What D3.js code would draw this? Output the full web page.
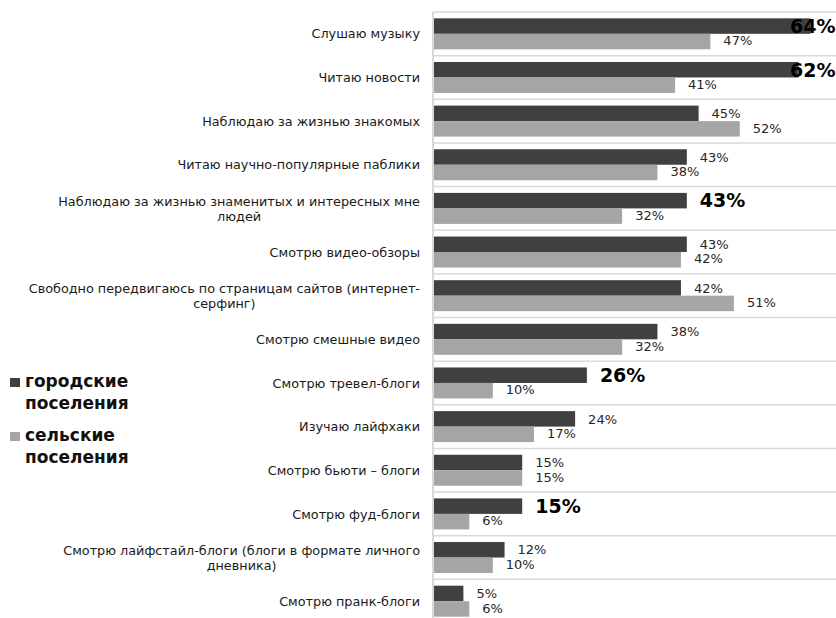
<!DOCTYPE html>
<html>
<head>
<meta charset="utf-8">
<script src="https://cdn.jsdelivr.net/npm/d3@7"></script>
<style>
  html, body { margin: 0; padding: 0; background: #fff; }
  svg { display: block; font-family: "DejaVu Sans", Verdana, sans-serif; overflow: hidden; }
</style>
</head>
<body>
<svg id="chart" width="836" height="618"></svg>
<script>
// Activities, top to bottom; long names are split into display lines
const categories = [
  ["Слушаю музыку"],
  ["Читаю новости"],
  ["Наблюдаю за жизнью знакомых"],
  ["Читаю научно-популярные паблики"],
  ["Наблюдаю за жизнью знаменитых и интересных мне", "людей"],
  ["Смотрю видео-обзоры"],
  ["Свободно передвигаюсь по страницам сайтов (интернет-", "серфинг)"],
  ["Смотрю смешные видео"],
  ["Смотрю тревел-блоги"],
  ["Изучаю лайфхаки"],
  ["Смотрю бьюти – блоги"],
  ["Смотрю фуд-блоги"],
  ["Смотрю лайфстайл-блоги (блоги в формате личного", "дневника)"],
  ["Смотрю пранк-блоги"]
];
// Share of respondents, %
const urban = [64, 62, 45, 43, 43, 43, 42, 38, 26, 24, 15, 15, 12, 5];
const rural = [47, 41, 52, 38, 32, 42, 51, 32, 10, 17, 15, 6, 10, 6];
// Urban values printed large and bold
const highlighted = [0, 1, 4, 8, 11];
const seriesNames = [["городские", "поселения"], ["сельские", "поселения"]];

const colors = { urban: "#404040", rural: "#a5a5a5", grid: "#d9d9d9" };

const svg = d3.select("#chart");
const plotLeft = 434, plotTop = 12, plotBottom = 623, plotRight = 836;

const keys = categories.map((c, i) => i);
const y = d3.scaleBand().domain(keys).range([plotTop, plotBottom])
  .paddingInner(0.29).paddingOuter(0.145);
const x = d3.scaleLinear().domain([0, 70]).range([plotLeft, plotLeft + 411.6]);
const sub = d3.scaleBand().domain(["urban", "rural"]).range([0, y.bandwidth()]);

// Frame and row separators
const step = y.step();
const sepYs = d3.range(0, categories.length + 1).map(k => plotTop + k * step);
svg.append("g").selectAll("line").data(sepYs).join("line")
  .attr("x1", plotLeft - 1).attr("x2", plotRight)
  .attr("y1", d => d).attr("y2", d => d)
  .attr("stroke", colors.grid).attr("stroke-width", 1.5);
svg.append("line")
  .attr("x1", plotLeft - 1).attr("x2", plotLeft - 1)
  .attr("y1", plotTop).attr("y2", plotBottom)
  .attr("stroke", colors.grid).attr("stroke-width", 2);

// Bars
const rows = keys.map(i => ({ i, urban: urban[i], rural: rural[i] }));
const g = svg.append("g");
["urban", "rural"].forEach(s => {
  g.selectAll("rect." + s).data(rows).join("rect")
    .attr("class", s)
    .attr("x", x(0))
    .attr("y", d => y(d.i) + sub(s))
    .attr("width", d => x(d[s]) - x(0))
    .attr("height", sub.bandwidth())
    .attr("fill", colors[s]);
});

// Value labels; labels of the longest bars are pulled back inside the plot
const labelLimitX = 790;
const isBig = (s, d) => s === "urban" && highlighted.includes(d.i);
["urban", "rural"].forEach(s => {
  g.selectAll("text." + s).data(rows).join("text")
    .attr("class", s)
    .attr("x", d => Math.min(x(d[s]) + 13, labelLimitX))
    .attr("y", d => y(d.i) + sub(s) + sub.bandwidth() / 2 - (s === "rural" ? 1 : 0))
    .attr("dy", "0.36em")
    .attr("font-size", d => isBig(s, d) ? 19 : 13)
    .attr("font-weight", d => isBig(s, d) ? "bold" : "normal")
    .attr("fill", d => isBig(s, d) ? "#000" : "#262626")
    .text(d => d[s] + "%");
});

// Category labels: right-aligned block, lines centred within it
const catG = svg.append("g").attr("font-size", 12.8).attr("fill", "#1a1a1a");
const lineH = 15;
categories.forEach((lines, i) => {
  const cy = y(i) + y.bandwidth() / 2;
  const t = catG.append("text").attr("text-anchor", "end")
    .attr("x", 420).attr("y", cy - (lines.length - 1) * lineH / 2)
    .attr("dy", "0.36em").text(lines[0]);
  if (lines.length > 1) {
    const w = t.node().getComputedTextLength();
    const mid = 420 - w / 2;
    lines.slice(1).forEach((ln, j) => {
      catG.append("text").attr("text-anchor", "middle")
        .attr("x", mid).attr("y", cy - (lines.length - 1) * lineH / 2 + (j + 1) * lineH)
        .attr("dy", "0.36em").text(ln);
    });
  }
});

// Legend
const legend = svg.append("g").attr("font-size", 17).attr("font-weight", "bold").attr("fill", "#111");
[colors.urban, colors.rural].forEach((c, k) => {
  const base = 387 + k * 54;
  legend.append("rect").attr("x", 10).attr("y", base - 9).attr("width", 10).attr("height", 9).attr("fill", c);
  seriesNames[k].forEach((ln, j) => {
    legend.append("text").attr("x", 25).attr("y", base + j * 22).text(ln);
  });
});
</script>
</body>
</html>
